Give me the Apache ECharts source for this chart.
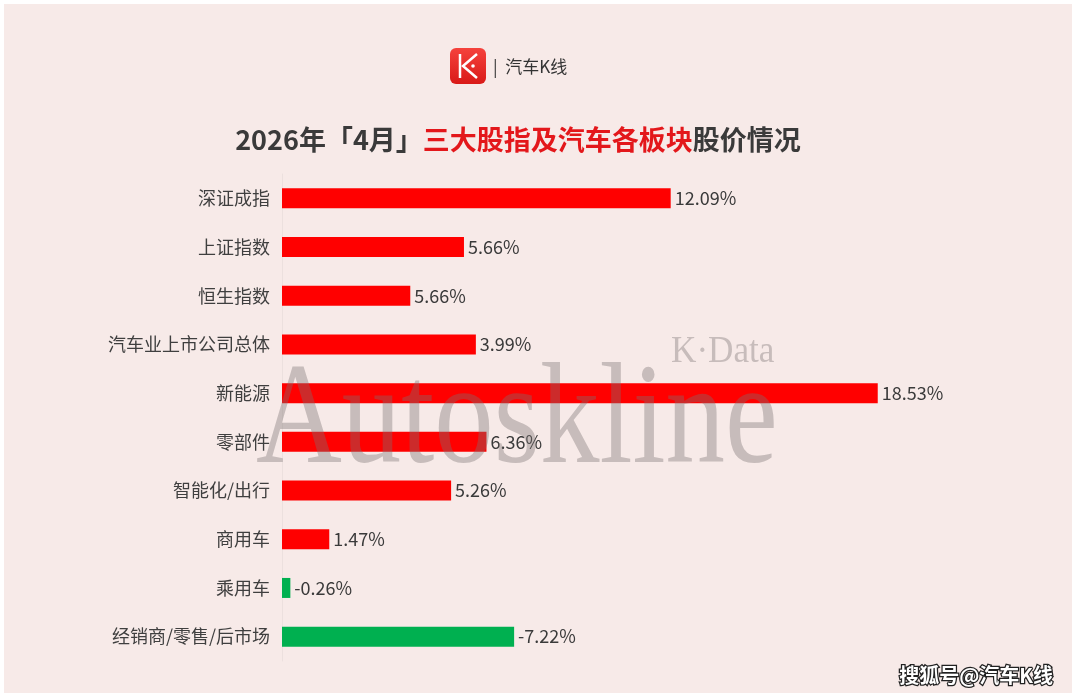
<!DOCTYPE html>
<html>
<head>
<meta charset="utf-8">
<script src="https://cdn.jsdelivr.net/npm/echarts@6/dist/echarts.min.js"></script>
<style>html,body{margin:0;padding:0;background:#fff;}#c{width:1080px;height:699px;}</style>
</head>
<body>
<div id="c"></div>
<script>
// Categories (top to bottom)
const categories = ['深证成指','上证指数','恒生指数','汽车业上市公司总体','新能源','零部件','智能化/出行','商用车','乘用车','经销商/零售/后市场'];
// Bar lengths as drawn in the picture (percent change)
const values = [12.09, 5.66, 3.99, 6.03, 18.53, 6.36, 5.26, 1.47, -0.26, -7.22];
// Value labels as printed
const valueLabels = ['12.09%','5.66%','5.66%','3.99%','18.53%','6.36%','5.26%','1.47%','-0.26%','-7.22%'];

const CJK = '"Noto Sans CJK SC", "Noto Sans", sans-serif';
const SERIF = '"Liberation Serif", "DejaVu Serif", serif';
const chart = echarts.init(document.getElementById('c'), null, {renderer:'canvas'});

const option = {
  backgroundColor: '#ffffff',
  animation: false,
  grid: {left: 282, top: 174, width: 643, height: 487, containLabel: false},
  xAxis: {type: 'value', min: 0, max: 20, show: false},
  yAxis: {
    type: 'category', data: categories, inverse: true,
    axisLine: {show: true, lineStyle: {color: '#ece0de', width: 1}},
    axisTick: {show: false},
    axisLabel: {color: '#3f3f3f', fontSize: 18, fontFamily: CJK, margin: 12}
  },
  series: [{
    type: 'bar', barWidth: 20,
    data: values.map((v, i) => ({
      value: Math.abs(v),
      itemStyle: {color: v < 0 ? '#00b050' : '#ff0000'},
      label: {formatter: valueLabels[i]}
    })),
    label: {show: true, position: 'right', distance: 4, color: '#3a3a3a', fontSize: 18, fontFamily: CJK},
    z: 2
  }],
  graphic: [
    {type: 'rect', shape: {x: 4, y: 4, width: 1068, height: 689}, style: {fill: '#f7eae8'}, z: -10, silent: true},
    // logo
    {type: 'rect', shape: {x: 450, y: 48, width: 36, height: 36, r: 6},
      style: {fill: new echarts.graphic.LinearGradient(0,0,0,1,[{offset:0,color:'#f5423c'},{offset:1,color:'#d91a18'}])}, z: 10},
    {type: 'polyline', shape: {points: [[460,54],[460,78]]}, style: {stroke: '#fff', lineWidth: 2.5}, z: 11},
    {type: 'polyline', shape: {points: [[477,54],[463,66],[477,78]]}, style: {stroke: '#fff', lineWidth: 2.5, fill: null}, z: 11},
    {type: 'circle', shape: {cx: 473, cy: 66, r: 1.8}, style: {fill: '#fff'}, z: 11},
    {type: 'text', x: 493, y: 67, style: {text: '|  汽车K线', fill: '#333', fontSize: 17, fontFamily: CJK, verticalAlign: 'middle'}, z: 11},
    // title
    {type: 'text', x: 518, y: 140, style: {
      text: '{a|2026年「4月」}{b|三大股指及汽车各板块}{a|股价情况}',
      align: 'center', verticalAlign: 'middle',
      rich: {
        a: {fill: '#3a3a3a', fontSize: 27, fontWeight: 'bold', fontFamily: CJK},
        b: {fill: '#e3171b', fontSize: 27, fontWeight: 'bold', fontFamily: CJK}
      }}, z: 11},
    // watermarks
    {type: 'text', x: 256, y: 351, scaleX: 0.82, style: {text: 'Autoskline', fill: 'rgba(120,112,112,0.38)', fontSize: 145, fontFamily: SERIF}, z: 20, silent: true},
    {type: 'text', x: 671, y: 334, scaleX: 0.95, style: {text: 'K·Data', fill: 'rgba(120,112,112,0.38)', fontSize: 37, fontFamily: SERIF}, z: 20, silent: true},
    {type: 'text', x: 1053, y: 675, style: {text: '搜狐号@汽车K线', fill: '#fff', stroke: '#222', lineWidth: 2.5, fontSize: 20, fontWeight: 'bold', fontFamily: CJK, align: 'right', verticalAlign: 'middle'}, z: 20}
  ]
};
chart.setOption(option);
</script>
</body>
</html>
